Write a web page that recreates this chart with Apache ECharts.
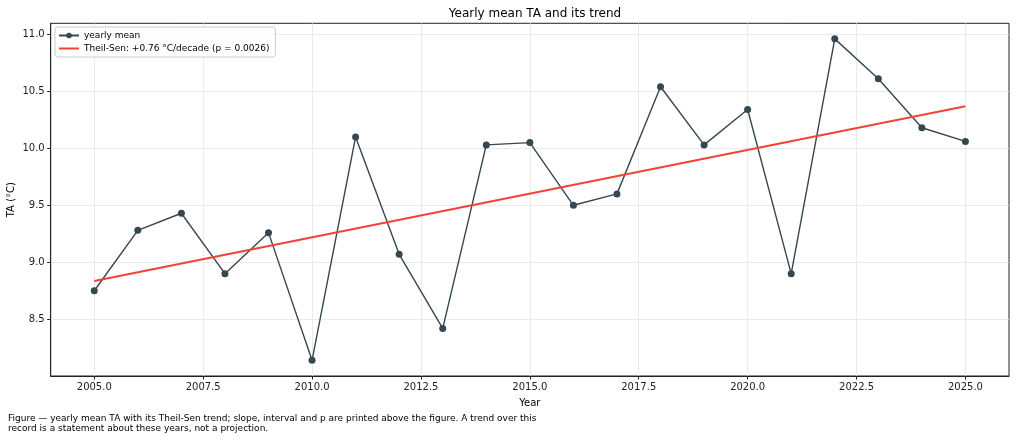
<!DOCTYPE html>
<html>
<head>
<meta charset="utf-8">
<script src="https://cdn.jsdelivr.net/npm/echarts@6/dist/echarts.min.js"></script>
<style>
  html, body { margin: 0; padding: 0; background: #fff; }
  #chart { width: 1016px; height: 440px; }
</style>
</head>
<body>
<div id="chart"></div>
<script>
const years = [2005, 2006, 2007, 2008, 2009, 2010, 2011, 2012, 2013, 2014, 2015,
               2016, 2017, 2018, 2019, 2020, 2021, 2022, 2023, 2024, 2025];
const yearlyMean = [8.75, 9.28, 9.43, 8.90, 9.26, 8.14, 10.10, 9.07, 8.42, 10.03, 10.05,
                    9.50, 9.60, 10.54, 10.03, 10.34, 8.90, 10.96, 10.61, 10.18, 10.06];
const trendYears = [2005, 2025];
const trendValues = [8.836, 10.368];
const xTicks = [2005, 2007.5, 2010, 2012.5, 2015, 2017.5, 2020, 2022.5, 2025];
const yTicks = [8.5, 9.0, 9.5, 10.0, 10.5, 11.0];
const titleText = 'Yearly mean TA and its trend';
const meanName = 'yearly mean';
const trendName = 'Theil-Sen: +0.76 °C/decade (p = 0.0026)';
const footerText = 'Figure — yearly mean TA with its Theil-Sen trend; slope, interval and p are printed above the figure. A trend over this\nrecord is a statement about these years, not a projection.';

const font = 'DejaVu Sans';
const chart = echarts.init(document.getElementById('chart'), null, { renderer: 'canvas' });

const meanData = years.map((y, i) => [y, yearlyMean[i]]);
const trendData = trendYears.map((y, i) => [y, trendValues[i]]);

chart.setOption({
  animation: false,
  backgroundColor: '#ffffff',
  textStyle: { fontFamily: font },
  title: {
    text: titleText,
    left: 530,
    top: 3,
    textAlign: 'center',
    textStyle: { fontFamily: font, fontSize: 12, fontWeight: 'normal', color: '#000' }
  },
  legend: {
    orient: 'vertical',
    left: 55,
    top: 27,
    padding: [4, 6, 4, 3],
    itemGap: 4,
    itemWidth: 20,
    itemHeight: 7,
    backgroundColor: 'rgba(255,255,255,0.8)',
    borderColor: '#cccccc',
    borderWidth: 1,
    borderRadius: 3,
    textStyle: { fontFamily: font, fontSize: 9, color: '#000', padding: [0, 0, 0, 0] },
    data: [meanName, { name: trendName, itemStyle: { opacity: 0 } }]
  },
  grid: {
    left: 50.7, right: 7, top: 23.3, bottom: 64,
    outerBoundsMode: 'none',
    containLabel: false,
    show: true, borderColor: '#222', borderWidth: 1, backgroundColor: 'transparent'
  },
  xAxis: {
    type: 'value',
    min: 2004, max: 2026,
    name: 'Year',
    nameLocation: 'middle',
    nameGap: 22,
    nameMoveOverlap: false,
    nameTextStyle: { fontFamily: font, fontSize: 10, color: '#000' },
    axisLine: { show: true, onZero: false, lineStyle: { color: '#222', width: 1 } },
    axisTick: { show: true, inside: false, length: 3.5, customValues: xTicks, lineStyle: { color: '#222' } },
    axisLabel: { customValues: xTicks, margin: 6, fontFamily: font, fontSize: 10, color: '#222',
                 formatter: v => v.toFixed(1) },
    splitLine: { show: true, lineStyle: { color: '#e6e6e6', width: 0.8 } }
  },
  yAxis: {
    type: 'value',
    min: 8.0023, max: 11.0966,
    name: 'TA (°C)',
    nameLocation: 'middle',
    nameGap: 34,
    nameMoveOverlap: false,
    nameRotate: 90,
    nameTextStyle: { fontFamily: font, fontSize: 10, color: '#000' },
    axisLine: { show: true, onZero: false, lineStyle: { color: '#222', width: 1 } },
    axisTick: { show: true, inside: false, length: 3.5, customValues: yTicks, lineStyle: { color: '#222' } },
    axisLabel: { customValues: yTicks, margin: 6, fontFamily: font, fontSize: 10, color: '#222',
                 formatter: v => v.toFixed(1) },
    splitLine: { show: true, lineStyle: { color: '#e6e6e6', width: 0.8 } }
  },
  series: [
    {
      name: meanName,
      type: 'line',
      data: meanData,
      symbol: 'circle',
      symbolSize: 7,
      showSymbol: true,
      color: '#37474f',
      lineStyle: { color: '#37474f', width: 1.4 },
      itemStyle: { color: '#37474f' },
      z: 2
    },
    {
      name: trendName,
      type: 'line',
      data: trendData,
      symbol: 'none',
      color: '#f44336',
      lineStyle: { color: '#f44336', width: 2 },
      z: 3
    }
  ],
  graphic: [
    {
      type: 'text',
      left: 8,
      top: 414,
      style: {
        text: footerText,
        font: '9px "DejaVu Sans"',
        fill: '#000',
        lineHeight: 10
      }
    }
  ]
});
</script>
</body>
</html>
